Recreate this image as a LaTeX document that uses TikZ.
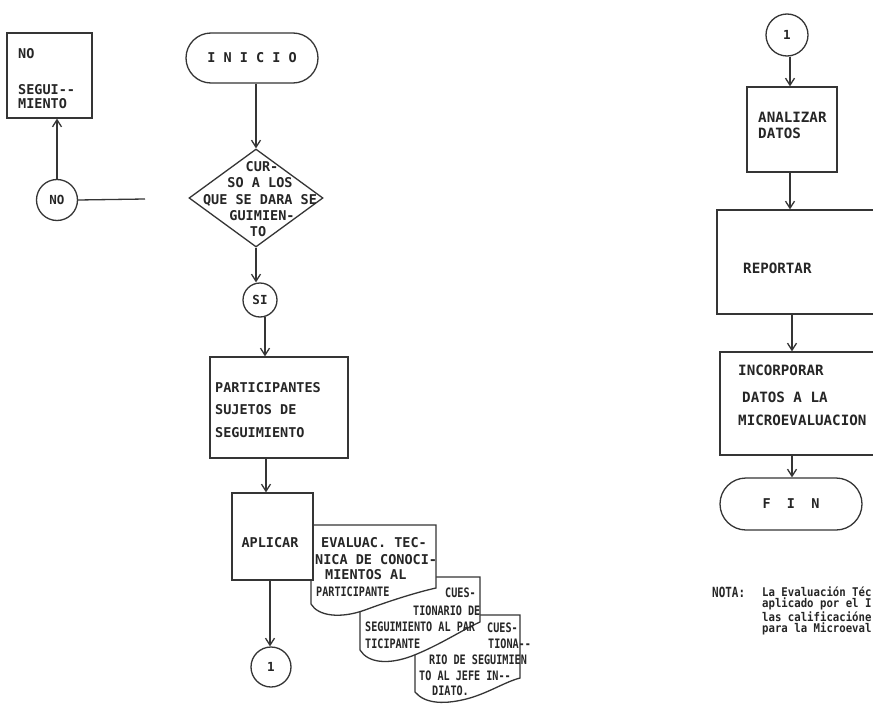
\documentclass[tikz,border=0pt]{standalone}
\usepackage{fontspec}
\usetikzlibrary{arrows.meta,shapes.geometric}
\newfontfamily\lblfont{DejaVu Sans Mono}
\newfontfamily\narrowfont[FakeStretch=0.78]{DejaVu Sans Mono}
\newfontfamily\notefont[FakeStretch=0.89]{DejaVu Sans Mono}
\definecolor{ink}{HTML}{353535}
\definecolor{txt}{HTML}{262626}
\tikzset{
  ln/.style={draw=ink, line width=1.3pt},
  arr/.style={ln, -{Straight Barb[length=7pt,width=9pt]}},
  pbox/.style={ln, fill=white, rectangle, inner sep=0pt},
  circst/.style={ln, fill=white, circle, inner sep=0pt, text=txt,
    font=\lblfont\bfseries\fontsize{12.5}{14}\selectfont},
  termst/.style={ln, fill=white, rectangle, inner sep=0pt, text=txt,
    font=\lblfont\bfseries\fontsize{13.5}{16}\selectfont},
  lbl/.style={inner sep=0pt, anchor=west, text=txt,
    font=\lblfont\bfseries\fontsize{13.5}{16}\selectfont},
  lblw/.style={lbl, font=\lblfont\bfseries\fontsize{14.2}{16}\selectfont},
  clbl/.style={inner sep=0pt, text=txt,
    font=\lblfont\bfseries\fontsize{13.5}{16}\selectfont},
  nlbl/.style={inner sep=0pt, anchor=west, text=txt,
    font=\narrowfont\bfseries\fontsize{13}{15}\selectfont},
  note/.style={inner sep=0pt, anchor=north west, align=left, text=txt,
    font=\notefont\bfseries\fontsize{12}{9.3}\selectfont},
}
\begin{document}
\begin{tikzpicture}[x=1pt, y=-1pt]
\useasboundingbox (0,0) rectangle (873,704);
\fill[white] (0,0) rectangle (873,704);
\clip (0,0) rectangle (873,704);

% ---------- left branch: NO ----------
\node[pbox, minimum width=85pt, minimum height=85pt] (nobox) at (49.5,75.5) {};
\node[lbl] (tno1) at (18,54) {NO};
\node[lbl] (tno2) at (18,90) {SEGUI--};
\node[lbl] (tno3) at (18,104) {MIENTO};
\node[circst, minimum size=41pt] (nocirc) at (57,200) {NO};
\coordinate (noend) at (145,199);
\draw[ln] (nocirc.east) -- (noend);
\draw[arr] (nocirc.north) -- (nocirc.north |- nobox.south);

% ---------- main column ----------
\node[termst, rounded corners=25pt, minimum width=132pt, minimum height=50pt] (inicio) at (252,58) {I N I C I O};
\node[ln, fill=white, diamond, inner sep=0pt, minimum width=134pt, minimum height=98pt] (dia) at (256,198) {};
\node[clbl] (d1) at (262,167) {CUR-};
\node[clbl] (d2) at (260,183) {SO A LOS};
\node[clbl] (d3) at (260,200) {QUE SE DARA SE};
\node[clbl] (d4) at (262,216) {GUIMIEN-};
\node[clbl] (d5) at (258,232) {TO};
\draw[arr] (dia.north |- inicio.south) -- (dia.north);

\node[circst, minimum size=34pt] (si) at (260,300) {SI};
\draw[arr] (dia.south) -- (dia.south |- si.north);

\node[pbox, minimum width=138pt, minimum height=101pt] (part) at (279,407.5) {};
\node[lbl] (tp1) at (215,388) {PARTICIPANTES};
\node[lbl] (tp2) at (215,410) {SUJETOS DE};
\node[lbl] (tp3) at (215,433) {SEGUIMIENTO};
\coordinate (sib) at (265,317);
\draw[arr] (sib) -- (sib |- part.north);

% stacked documents, back to front
\draw[ln, fill=white] (415,615) -- (520,615) -- (520,678)
  .. controls (505,682) and (490,692) .. (470,698)
  .. controls (445,705) and (425,704) .. (415,692) -- cycle;
\draw[ln, fill=white] (360,577) -- (480,577) -- (480,622)
  .. controls (462,630) and (440,645) .. (412,656)
  .. controls (388,665) and (368,663) .. (360,650) -- cycle;
\draw[ln, fill=white] (311,525) -- (436,525) -- (436,588)
  .. controls (418,592) and (392,600) .. (365,610)
  .. controls (340,619) and (318,616) .. (311,604) -- cycle;

\node[pbox, minimum width=81pt, minimum height=87pt] (aplic) at (272.5,536.5) {};
\node[clbl] (tap) at (270,543) {APLICAR};
\coordinate (pb) at (266,458);
\draw[arr] (pb) -- (pb |- aplic.north);

\node[lbl] (e1) at (321,543) {EVALUAC. TEC-};
\node[lbl] (e2) at (315,560) {NICA DE CONOCI-};
\node[lbl] (e3) at (325,575) {MIENTOS AL};
\node[nlbl] (e4) at (316,592) {PARTICIPANTE};

\node[nlbl] (q1) at (445,593) {CUES-};
\node[nlbl] (q2) at (413,611) {TIONARIO DE};
\node[nlbl] (q3) at (365,627) {SEGUIMIENTO AL PAR};
\node[nlbl] (q4) at (365,644) {TICIPANTE};

\node[nlbl] (j1) at (487,628) {CUES-};
\node[nlbl] (j2) at (488,644) {TIONA--};
\node[nlbl] (j3) at (429,660) {RIO DE SEGUIMIEN};
\node[nlbl] (j4) at (419,676) {TO AL JEFE IN--};
\node[nlbl] (j5) at (432,691) {DIATO.};

\node[circst, minimum size=40pt] (onea) at (271,667) {1};
\coordinate (ab) at (270,580);
\draw[arr] (ab) -- (ab |- onea.north);

% ---------- right column ----------
\node[circst, minimum size=42pt] (oneb) at (787,35) {1};
\node[pbox, minimum width=90pt, minimum height=85pt] (anal) at (792,129.5) {};
\node[lblw] (ta1) at (758,117) {ANALIZAR};
\node[lblw] (ta2) at (758,133) {DATOS};
\draw[arr] ([xshift=3pt]oneb.south) -- ([xshift=3pt]oneb.south |- anal.north);

\node[pbox, minimum width=183pt, minimum height=104pt] (rep) at (808.5,262) {};
\node[lblw] (tr) at (743,268) {REPORTAR};
\draw[arr] ([xshift=-2pt]anal.south) -- ([xshift=-2pt]anal.south |- rep.north);

\node[pbox, minimum width=180pt, minimum height=103pt] (incor) at (810,403.5) {};
\node[lblw] (ti1) at (738,370) {INCORPORAR};
\node[lblw] (ti2) at (742,397) {DATOS A LA};
\node[lblw] (ti3) at (738,420) {MICROEVALUACION};
\coordinate (rb) at (792,314);
\draw[arr] (rb) -- (rb |- incor.north);

\node[termst, rounded corners=26pt, minimum width=142pt, minimum height=52pt] (fin) at (791,504) {F~~I~~N};
\coordinate (ib) at (792,455);
\draw[arr] (ib) -- (ib |- fin.north);

% note
\node[inner sep=0pt, anchor=north west, text=txt,
  font=\narrowfont\bfseries\fontsize{14}{9}\selectfont] (nota) at (712,587) {NOTA:};
\node[note] (notatext) at (762,587) {La Evaluación Téc\\aplicado por el I\\las calificacióne\\para la Microeval};
\end{tikzpicture}
\end{document}
